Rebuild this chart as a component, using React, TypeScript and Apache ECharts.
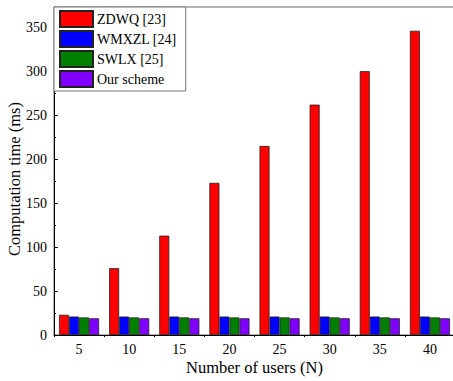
import React, { useEffect, useRef } from "react";
import * as echarts from "echarts";

const categories = ["5", "10", "15", "20", "25", "30", "35", "40"];
const zdwq = [23, 76, 113, 173, 215, 262, 300, 346];
const wmxzl = [21, 21, 21, 21, 21, 21, 21, 21];
const swlx = [20, 20, 20, 20, 20, 20, 20, 20];
const ours = [19, 19, 19, 19, 19, 19, 19, 19];
const seriesNames = ["ZDWQ [23]", "WMXZL [24]", "SWLX [25]", "Our scheme"];
const colors = ["#ff0000", "#0000ff", "#008000", "#8000ff"];

const font = "Liberation Serif";

export default function App() {
  const ref = useRef<HTMLDivElement>(null);
  useEffect(() => {
    if (!ref.current) return;
    const chart = echarts.init(ref.current, undefined, { renderer: "svg" });
    const data = [zdwq, wmxzl, swlx, ours];
    chart.setOption({
      animation: false,
      backgroundColor: "#ffffff",
      textStyle: { fontFamily: font },
      grid: {
        left: 54,
        right: -2,
        top: 7,
        bottom: 46,
        outerBoundsMode: "none",
        containLabel: false,
        show: true,
        borderColor: "#666",
        borderWidth: 1,
      },
      legend: {
        left: 54,
        top: 7,
        orient: "vertical",
        itemWidth: 33,
        itemHeight: 16,
        itemGap: 2,
        padding: [3, 9, 3, 5],
        backgroundColor: "#fff",
        borderColor: "#777",
        borderWidth: 1,
        borderRadius: 0,
        textStyle: { fontFamily: font, fontSize: 14, color: "#000", padding: [0, 0, 0, -1] },
        data: seriesNames.map((n) => ({ name: n, icon: "rect" })),
      },
      xAxis: {
        type: "category",
        data: categories,
        name: "Number of users (N)",
        nameLocation: "middle",
        nameGap: 24,
        nameMoveOverlap: false,
        nameTextStyle: { fontFamily: font, fontSize: 16.5, color: "#000" },
        axisLine: { lineStyle: { color: "#000", width: 1 } },
        axisTick: { show: true, inside: false, length: 2, lineStyle: { color: "#000" } },
        axisLabel: { fontFamily: font, fontSize: 14, color: "#000", margin: 7 },
      },
      yAxis: {
        type: "value",
        min: 0,
        max: 373,
        interval: 50,
        name: "Computation time (ms)",
        nameLocation: "middle",
        nameGap: 31,
        nameMoveOverlap: false,
        nameTextStyle: { fontFamily: font, fontSize: 16.5, color: "#000", padding: [0, 16, 0, 0] },
        axisLine: { show: true, lineStyle: { color: "#000", width: 1 } },
        axisTick: { show: true, inside: true, length: 4, lineStyle: { color: "#000" } },
        minorTick: { show: true, splitNumber: 2, length: 2, lineStyle: { color: "#000" } },
        splitLine: { show: false },
        axisLabel: { fontFamily: font, fontSize: 14, color: "#000", margin: 7, showMaxLabel: false },
      },
      series: data.map((d, i) => ({
        name: seriesNames[i],
        type: "bar",
        data: d,
        barGap: "0%",
        barCategoryGap: "20%",
        itemStyle: { color: colors[i], borderColor: "#222", borderWidth: 0.8 },
      })),
    });
    return () => chart.dispose();
  }, []);
  return <div ref={ref} style={{ width: 453, height: 381, position: "absolute", left: 0, top: 0 }} />;
}
